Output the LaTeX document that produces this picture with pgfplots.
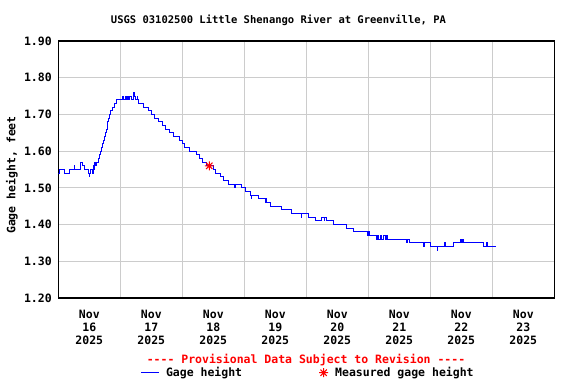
\documentclass[border=0pt]{standalone}
\usepackage{pgfplots}
\pgfplotsset{compat=1.18}
\usepackage{fontspec}
\setmainfont{DejaVu Sans Mono}[Ligatures=TeXOff]
\definecolor{gridgray}{RGB}{204,204,204}
\pgfdeclareplotmark{ast8}{%
  \pgfpathmoveto{\pgfqpoint{-\pgfplotmarksize}{0pt}}\pgfpathlineto{\pgfqpoint{\pgfplotmarksize}{0pt}}%
  \pgfpathmoveto{\pgfqpoint{0pt}{-\pgfplotmarksize}}\pgfpathlineto{\pgfqpoint{0pt}{\pgfplotmarksize}}%
  \pgfpathmoveto{\pgfqpoint{-0.707\pgfplotmarksize}{-0.707\pgfplotmarksize}}\pgfpathlineto{\pgfqpoint{0.707\pgfplotmarksize}{0.707\pgfplotmarksize}}%
  \pgfpathmoveto{\pgfqpoint{-0.707\pgfplotmarksize}{0.707\pgfplotmarksize}}\pgfpathlineto{\pgfqpoint{0.707\pgfplotmarksize}{-0.707\pgfplotmarksize}}%
  \pgfusepathqstroke}
\pgfplotstableread{
x y
0.000 1.54
0.027 1.55
0.096 1.54
0.187 1.55
0.257 1.56
0.267 1.55
0.364 1.57
0.385 1.56
0.417 1.55
0.481 1.54
0.497 1.53
0.508 1.54
0.524 1.55
0.545 1.54
0.561 1.56
0.578 1.55
0.588 1.57
0.604 1.56
0.620 1.57
0.642 1.58
0.658 1.59
0.674 1.60
0.690 1.61
0.706 1.62
0.727 1.63
0.743 1.64
0.759 1.65
0.775 1.66
0.786 1.67
0.797 1.68
0.807 1.69
0.824 1.70
0.845 1.71
0.877 1.72
0.909 1.73
0.941 1.74
1.043 1.75
1.059 1.74
1.080 1.75
1.096 1.74
1.112 1.75
1.134 1.74
1.150 1.75
1.187 1.74
1.209 1.76
1.225 1.75
1.251 1.74
1.273 1.75
1.283 1.74
1.299 1.73
1.380 1.72
1.460 1.71
1.505 1.70
1.559 1.69
1.613 1.68
1.683 1.67
1.737 1.66
1.801 1.65
1.866 1.64
1.952 1.63
2.000 1.62
2.043 1.61
2.124 1.60
2.231 1.59
2.274 1.58
2.328 1.57
2.392 1.56
2.500 1.55
2.543 1.54
2.618 1.53
2.672 1.52
2.742 1.51
2.840 1.50
2.855 1.51
2.957 1.50
3.016 1.49
3.097 1.48
3.110 1.47
3.120 1.48
3.231 1.47
3.339 1.46
3.355 1.47
3.366 1.46
3.430 1.45
3.608 1.44
3.769 1.43
3.915 1.42
3.925 1.43
4.038 1.42
4.145 1.41
4.253 1.42
4.290 1.41
4.300 1.42
4.333 1.41
4.441 1.40
4.645 1.39
4.763 1.38
4.984 1.37
5.000 1.38
5.020 1.37
5.134 1.36
5.150 1.37
5.170 1.36
5.200 1.37
5.220 1.36
5.250 1.37
5.270 1.36
5.290 1.37
5.310 1.36
5.620 1.35
5.640 1.36
5.660 1.35
5.895 1.34
5.905 1.35
6.005 1.34
6.110 1.33
6.120 1.34
6.230 1.35
6.240 1.34
6.371 1.35
6.489 1.36
6.500 1.35
6.520 1.36
6.543 1.35
6.866 1.34
6.910 1.35
6.925 1.34
7.054 1.34
}\gage
\begin{document}
\begin{tikzpicture}
\path[use as bounding box] (0pt,0pt) rectangle (576pt,-384pt);
\begin{axis}[
  at={(58.3pt,-298pt)}, anchor=south west,
  scale only axis, width=496pt, height=257pt,
  xmin=0, xmax=8, ymin=1.2, ymax=1.9,
  axis line style={black, line width=1.2pt},
  xtick={0.5,1.5,...,7.5},
  xticklabels={{Nov\\16\\2025},{Nov\\17\\2025},{Nov\\18\\2025},{Nov\\19\\2025},{Nov\\20\\2025},{Nov\\21\\2025},{Nov\\22\\2025},{Nov\\23\\2025}},
  minor xtick={1,2,...,7},
  xminorgrids=true, xmajorgrids=false,
  ytick={1.2,1.3,...,1.9},
  ymajorgrids=true,
  grid style={gridgray, line width=1pt},
  minor grid style={gridgray, line width=1pt},
  major tick length=0pt, minor tick length=0pt,
  /pgf/number format/assume math mode=true,
  yticklabel style={font=\fontsize{11.5}{13}\selectfont\bfseries, xshift=-3pt, /pgf/number format/.cd, fixed, fixed zerofill, precision=2},
  xticklabel style={font=\fontsize{11.5}{13}\selectfont\bfseries, align=center, yshift=-9pt},
  legend style={at={(0.504,-0.2907)}, anchor=center, draw=none, fill=none,
    font=\fontsize{11.5}{13}\selectfont\bfseries, legend columns=2,
    /tikz/every odd column/.append style={column sep=5pt},
    /tikz/every even column/.append style={column sep=75pt}},
  legend cell align=left,
]
\addplot[const plot, blue, line width=1pt] table {\gage};
\addlegendentry{Gage height}
\addplot[only marks, mark=ast8, mark size=4.5pt, red, mark options={line width=1pt}] coordinates {(2.435,1.56)};
\addlegendentry{Measured gage height}
\end{axis}
\node[font=\fontsize{10.5}{12}\selectfont\bfseries] at (278.5pt,-20.5pt) {USGS 03102500 Little Shenango River at Greenville, PA};
\node[font=\fontsize{11.5}{13}\selectfont\bfseries, rotate=90] at (12pt,-175pt) {Gage height, feet};
\node[font=\fontsize{11.5}{13}\selectfont\bfseries, text=red] at (306pt,-360pt) {---- Provisional Data Subject to Revision ----};
\end{tikzpicture}
\end{document}
